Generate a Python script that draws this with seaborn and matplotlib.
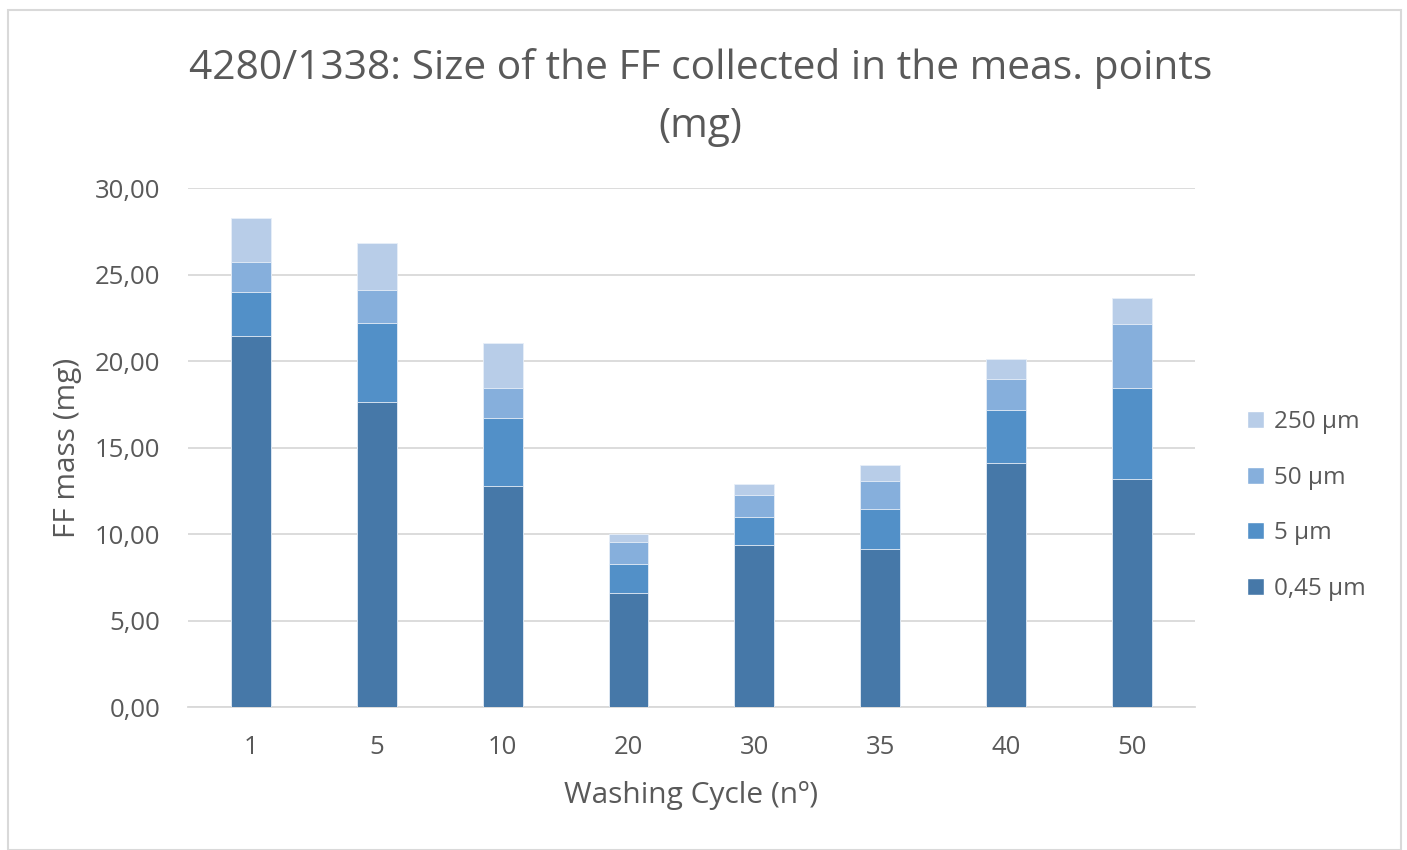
import numpy as np
import pandas as pd
import matplotlib
matplotlib.use('Agg')
import matplotlib.pyplot as plt
import seaborn as sns
from matplotlib.patches import Patch, Rectangle

# data
cycles = ['1', '5', '10', '20', '30', '35', '40', '50']
size_045 = [21.46, 17.65, 12.79, 6.59, 9.38, 9.15, 14.09, 13.20]
size_5 = [2.54, 4.55, 3.93, 1.69, 1.62, 2.31, 3.10, 5.22]
size_50 = [1.74, 1.89, 1.72, 1.24, 1.24, 1.62, 1.79, 3.72]
size_250 = [2.50, 2.71, 2.62, 0.48, 0.67, 0.92, 1.14, 1.52]
series_names = ['0,45 µm', '5 µm', '50 µm', '250 µm']
colors = ['#4678a8', '#5290c8', '#86afdc', '#b8cde8']

sns.set_theme(style='white')
plt.rcParams['font.family'] = ['Open Sans', 'DejaVu Sans']

df = pd.DataFrame({'cycle': cycles, '0,45 µm': size_045, '5 µm': size_5,
                   '50 µm': size_50, '250 µm': size_250})
cum = df[series_names].cumsum(axis=1)

fig = plt.figure(figsize=(14.07, 8.5), dpi=100)
ax = fig.add_axes([0.1336, 0.1682, 0.7157, 0.6106])

# stacked bars: draw cumulative totals from the top down
for name, col in reversed(list(zip(series_names, colors))):
    sns.barplot(x=df['cycle'], y=cum[name], color=col, width=0.317,
                saturation=1, ax=ax, zorder=3, edgecolor='#e8eff8', linewidth=0.6)

ax.set_ylim(0, 30)
ax.set_xlim(-0.5, 7.5)
ax.set_yticks(np.arange(0, 31, 5))
ax.set_yticklabels([f'{v:.2f}'.replace('.', ',') for v in np.arange(0, 31, 5)])
ax.yaxis.grid(True, color='#d9d9d9', linewidth=1.3, zorder=0)
for s in ['top', 'right', 'left']:
    ax.spines[s].set_visible(False)
ax.spines['bottom'].set_color('#d9d9d9')
ax.spines['bottom'].set_linewidth(1.3)
ax.tick_params(axis='both', length=0, labelsize=18.5, colors='#595959')
ax.tick_params(axis='y', pad=20)
ax.tick_params(axis='x', pad=20)

ax.set_xlabel('Washing Cycle (nº)', fontsize=21.5, color='#595959', labelpad=15)
ax.set_ylabel('FF mass (mg)', fontsize=21.5, color='#595959', labelpad=9)
fig.suptitle('4280/1338: Size of the FF collected in the meas. points\n(mg)',
             x=0.498, y=0.943, va='top', fontsize=29.3, color='#595959', linespacing=1.55)

handles = [Patch(facecolor=c, label=n) for n, c in zip(series_names, colors)][::-1]
leg = ax.legend(handles=handles, loc='center left', bbox_to_anchor=(1.03, 0.388),
                frameon=False, fontsize=17.5, handlelength=0.7, handleheight=0.7,
                handletextpad=0.4, labelspacing=1.3, labelcolor='#595959')

fig.patches.append(Rectangle((0.006, 0.0), 0.99, 0.988, transform=fig.transFigure,
                             fill=False, edgecolor='#d9d9d9', linewidth=1.5))

fig.savefig('out.png', dpi=100)
